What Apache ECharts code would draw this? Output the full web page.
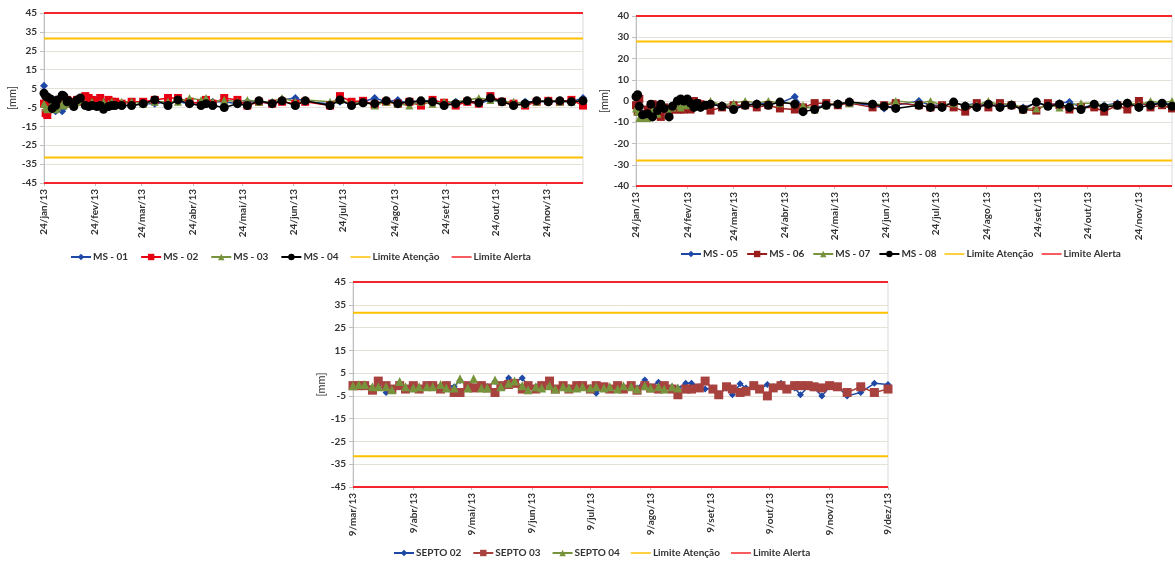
<!DOCTYPE html>
<html><head><meta charset="utf-8">
<script src="https://cdn.jsdelivr.net/npm/echarts@6/dist/echarts.min.js"></script>
<style>html,body{margin:0;padding:0;background:#fff}#c{width:1175px;height:562px}</style>
</head><body><div id="c"></div>
<script>
const YEAR = 2013;
const monthNames = ['jan','fev','mar','abr','mai','jun','jul','ago','set','out','nov','dez'];

// ---- Chart 1 (MS 01-04) ----
const dates1 = ['01-24','01-25','01-26','01-28','01-29','01-31','02-01','02-04','02-05','02-07',
  '02-08','02-11','02-13','02-15','02-18','02-20','02-22','02-25','02-27','03-01',
  '03-04','03-06','03-08','03-12','03-18','03-25','04-01','04-09','04-15','04-22',
  '04-29','05-02','05-06','05-13','05-21','05-27','06-03','06-11','06-17','06-25',
  '07-01','07-16','07-22','07-29','08-05','08-12','08-19','08-26','09-02','09-09',
  '09-16','09-23','09-30','10-07','10-14','10-21','10-28','11-04','11-11','11-18',
  '11-25','12-02','12-09','12-16'];
const ms01 = [6.5,-2,-4,-6.5,-5,-7,-3,-7,-5,-3, -3,-2,-2,-1,-2,-2,-2,-1,-1,-2, -2,-3,-3,-4,-4,-3,-3,-2,-2,-3,
  -2,-1,-2,-2,-3,-2,-2,-3,-1,0, -2,-3,-2,-3,-2,0,-2,-1,-3,-2, -1,-3,-2,-2,-3,-1,-2,-3,-2,-2, -2,-2,-2,0];
const ms02 = [-3,-8,-9,-5,-3,-4,-2,-2,-3,-1, -3,-2,-1,-2,1,0,-1,-2,0,-3, -1,-2,-2,-3,-2,-2,-1,0,0,-2,
  -3,-1,-3,0,-1,-4,-2,-3,-2,-3, -2,-4,1,-2,-1.5,-3.5,-2,-3,-2,-4, -1,-2.5,-4,-2,-3,1,-2,-3,-4,-2, -1.5,-2,-1,-4];
const ms03 = [-3,-5,-6,-4,-3,-6,-5,-3,-4,-2, -3,-4,-2,-1,-3,-4,-2,-4,-3,-2, -3,-2,-3,-2,-2,-3,-2,-2,-2,0,
  -1,0,-2,-1,-2,-1,-2,-2,0,-2, -1,-2,-1,-3,-2,-4,-2,-3,-4,-2, -3,-2,-2,-1,0,-1,-2,-2,-3,-2, -1,-2,-2,-1];
const ms04 = [2.5,1,0.5,-0.5,-5.5,-4,-1,1.5,1,-2, -1.5,-4.5,-1,0,-4,-4.5,-4,-4.5,-4,-6, -4.5,-4,-4,-4,-4,-3,-1,-4,-1,-3,
  -4,-3,-4,-5,-3,-4,-1.5,-3,-1.5,-4, -1.5,-4,-1,-4,-2.5,-3,-1.5,-3,-2,-1.5, -2,-4,-3,-1.5,-2.5,0,-2,-4,-3,-1.5, -2,-1.5,-2,-1.5];
const ticks1 = ['01-24','02-24','03-24','04-24','05-24','06-24','07-24','08-24','09-24','10-24','11-24'];
const yRange1 = [-45, 45];
const atencao1 = 31.5, alerta1 = 45;

// ---- Chart 2 (MS 05-08) ----
const dates2 = ['01-24','01-25','01-26','01-28','01-31','02-02','02-03','02-06','02-08','02-10',
  '02-13','02-15','02-18','02-20','02-22','02-24','02-26','02-28','03-02','03-04',
  '03-07','03-10','03-17','03-24','03-31','04-07','04-14','04-21','04-30','05-05',
  '05-12','05-19','05-26','06-02','06-16','06-23','06-30','07-14','07-21','07-28',
  '08-04','08-11','08-18','08-25','09-01','09-08','09-15','09-23','09-30','10-07',
  '10-13','10-20','10-28','11-03','11-11','11-17','11-24','12-01','12-08','12-14'];
const ms05 = [3,2,-3,-6,-7,-2,-7,-5,-2,-4, -6,-2,-1,0,-1,0,-2,-3,-2,-2, -2,-1,-2,-3,-2,-1,-1,-1,2,-3,
  -3,-2,-1,-1,-2,-3.5,-2,0,-2,-2, -1,-2,-1,-2,-2,-2,-3,-1,-2,-1, -0.5,-3,-2,-2,-1,-2,-2,-1,-1,-1.5];
const ms06 = [-2,-5,1,-7,-4,-2,-1.5,-2,-7.5,-3, -6,-4,-4,-4,-4,-2,-4,0,-1,-1.5, -2,-4.5,-3,-2,-2,-3,-2,-3.5,-4,-3,
  -1,-1,-2,-1,-3,-2,-1,-2,-3,-2, -3,-5,-1,-3,-1,-2,-4,-4.5,-1,-2, -4,-3,-3,-5,-2,-4,0,-3,-2,-3.5];
const ms07 = [-3.5,-5,-8,-8,-8,-7,-4,-6,-3,-2, -5,-3,-2,-3,-2,-1,-2,-1,-2,-2, -2,0,-2,-1,0,-1,0,-1,-1,-2,
  -4,-2,-1,-1,-1,-2,0,-1,0,-2, -1,-2,-2,0,-2,-1,-3.5,-3.5,-2,-3, -2,-1,-1,-2,-2,-0.5,-2,0,-1,0];
const ms08 = [2,3,-2.5,-6.5,-6,-1.5,-7.5,-4.5,-1.5,-3.5, -7.5,-2.5,0,1,0,1,-1,-3,-1,-3, -2,-1.5,-2.5,-4,-2,-1.5,-2,-0.5,-1.5,-5,
  -4,-2,-1.5,-0.5,-1.5,-2.5,-3.5,-2,-3,-3, -0.5,-2.5,-3,-1.5,-3,-2,-4,-0.5,-2.5,-1.5, -3,-4,-1.5,-3,-2,-1,-3,-2,-1,-2.5];
const ticks2 = ticks1;
const yRange2 = [-40, 40];
const atencao2 = 28, alerta2 = 40;

// ---- Chart 3 (SEPTO) ----
const dates3 = ['03-09','03-12','03-15','03-19','03-22','03-26','03-29',
  '04-02','04-05','04-09','04-12','04-16','04-19','04-23','04-26','04-30',
  '05-03','05-07','05-10','05-14','05-17','05-21','05-24','05-28','05-31',
  '06-04','06-07','06-11','06-14','06-18','06-21','06-25','06-28',
  '07-02','07-05','07-09','07-12','07-16','07-19','07-23','07-26','07-30',
  '08-02','08-06','08-09','08-13','08-16','08-20','08-23','08-27','08-30',
  '09-03','09-06','09-10','09-13','09-17','09-20','09-24','09-27',
  '10-01','10-04','10-08','10-11','10-15','10-18','10-22','10-25','10-29',
  '11-01','11-05','11-09','11-13','11-18','11-25','12-02','12-09'];
const septo02 = [-0.5,-0.5,0,-1.5,0.5,-3.5,-2,
  -1,-1.5,-0.5,-1.5,-1,-0.5,-1.5,0,-1,
  1.8,-0.5,-1,0,-1,1.3,-0.5,2.8,1,
  2.8,-0.5,-1,0,1.8,-1.5,-0.5,-1.5,
  -0.5,-1,-1.5,-3.8,-1,-1.5,-0.5,-1.5,-0.5,
  -1.5,2,-1,1,-0.5,-1,-1.5,0.5,0.5,
  -1,-2,-1.5,-4.5,-1.5,-4.5,0.3,-1.5,
  -1,-2,0,-1,0.5,-2,-1.5,-4.5,-1,
  -1.5,-5,-1,-1,-5,-3.5,0.5,0];
const septo03 = [-0.5,-0.5,-0.5,-2.5,1.5,-0.5,-2,
  -0.5,-2,-0.5,-2,-0.5,-0.5,-2,-0.5,-3.5,
  -3.5,-0.5,-1.5,-0.5,-1.5,-3.5,-0.5,0,0.5,
  -2,-0.5,-2,-0.5,1.5,-2,-0.5,-2,
  -0.5,-0.5,-2,-0.5,-1,-2,-0.5,-2,-0.5,
  -2.5,-0.5,-1.5,-2,-0.5,-2,-4.5,-2,-2,
  -1.5,1.5,-2,-4.5,-1,-2,-3.5,-3,
  -0.5,-2,-5,-1.5,-0.5,-2,-0.5,-0.5,-0.5,
  -1,-1.5,-0.5,-1,-3.5,-1,-3.5,-2];
const septo04 = [-0.5,0,0,-1,-1,-1,-2.3,
  1.3,-1,-1.5,-1,-1,-1,0,-1.5,-1.5,
  2.5,-1.5,2.5,-1.5,-1.5,2,-1,0.5,1.5,
  -0.5,-2.3,-1,-1.5,-0.5,-2,-1,-1.5,
  -1.5,-1,-1.5,-1,-1.5,-1,-2,-0.5,-1,
  -2,-0.5,-1.5,-1,-2,-1,-1.5,null,null,
  null,null,null,null,null,null,null,null,
  null,null,null,null,null,null,null,null,null,
  null,null,null,null,null,null,null,null];
const ticks3 = ['03-09','04-09','05-09','06-09','07-09','08-09','09-09','10-09','11-09','12-09'];
const yRange3 = [-45, 45];
const atencao3 = 31.5, alerta3 = 45;

// ---- colours ----
const C = {blue:'#1E48A6', red:'#E60012', green:'#77933C', black:'#000000',
  darkred:'#9B1C1C', brown:'#A8423F', atencao:'#FFC000', alerta:'#F5262B'};
const FONT = 'Lato';
const LINE_ICON = 'path://M0,0H40V3H0Z';

function ts(md){ const p = md.split('-').map(Number); return new Date(YEAR, p[0]-1, p[1]).getTime(); }
function pts(dates, vals){ return dates.map((d,i)=>[ts(d), vals[i] == null ? '-' : vals[i]]); }
function fmt(v){ const d = new Date(v); return d.getDate()+'/'+monthNames[d.getMonth()]+'/'+String(d.getFullYear()).slice(2); }

function xAx(gi, dates, ticks){
  const tv = ticks.map(ts);
  return {type:'value', gridIndex:gi, min:ts(dates[0]), max:ts(dates[dates.length-1]), scale:true,
    axisLine:{show:true, onZero:false, lineStyle:{color:'#BFBFBF'}},
    axisTick:{show:true, customValues:tv, length:3, lineStyle:{color:'#BFBFBF'}},
    splitLine:{show:false},
    axisLabel:{customValues:tv, rotate:90, formatter:fmt, fontFamily:FONT, fontWeight:'bold', fontSize:10, color:'#333', margin:6, hideOverlap:false, showMinLabel:true, showMaxLabel:true}};
}
function yAx(gi, r){
  return {type:'value', gridIndex:gi, min:r[0], max:r[1], interval:10,
    axisLine:{show:true, lineStyle:{color:'#BFBFBF'}},
    axisTick:{show:true, length:4, lineStyle:{color:'#BFBFBF'}},
    splitLine:{show:true, lineStyle:{color:'#E4E1D9', width:1}},
    axisLabel:{fontFamily:FONT, fontWeight:'bold', fontSize:10, color:'#333', margin:7},
    name:'[mm]', nameLocation:'middle', nameRotate:90, nameGap:26,
    nameTextStyle:{fontFamily:FONT, fontSize:11, color:'#333'}};
}
function dataSeries(name, gi, dates, vals, color, symbol, size){
  return {name, type:'line', xAxisIndex:gi, yAxisIndex:gi, data:pts(dates, vals),
    symbol, symbolSize:size, showSymbol:true, itemStyle:{color}, lineStyle:{color, width:1.5},
    emphasis:{disabled:true}};
}
function limitSeries(name, gi, dates, L, color){
  const a = ts(dates[0]), b = ts(dates[dates.length-1]);
  return {name, type:'line', xAxisIndex:gi, yAxisIndex:gi, clip:false, symbol:'none', showSymbol:false,
    data:[[a, L],[b, L],[b, '-'],[a, -L],[b, -L]], connectNulls:false,
    itemStyle:{color}, lineStyle:{color, width:2}, emphasis:{disabled:true}, z:1};
}
function legend(left, top, names, gap){
  return {left, top, padding:0, itemWidth:20, itemHeight:8, itemGap:gap, selectedMode:false,
    data:names.map(n => n.indexOf('Limite') === 0 ? {name:n, icon:LINE_ICON} : n),
    textStyle:{fontFamily:FONT, fontWeight:'bold', fontSize:10, color:'#333', padding:[0,0,0,-3]}};
}

const option = {
  animation:false,
  backgroundColor:'#fff',
  grid:[
    {left:44, right:592, top:13, bottom:379, show:true, borderColor:'#D9D9D9', borderWidth:1, backgroundColor:'transparent'},
    {left:636, right:3, top:16, bottom:376, show:true, borderColor:'#D9D9D9', borderWidth:1, backgroundColor:'transparent'},
    {left:353, right:287, top:282, bottom:75, show:true, borderColor:'#D9D9D9', borderWidth:1, backgroundColor:'transparent'}
  ],
  xAxis:[xAx(0, dates1, ticks1), xAx(1, dates2, ticks2), xAx(2, dates3, ticks3)],
  yAxis:[yAx(0, yRange1), yAx(1, yRange2), yAx(2, yRange3)],
  legend:[
    legend(70, 252, ['MS - 01','MS - 02','MS - 03','MS - 04','Limite Atenção','Limite Alerta'], 12),
    legend(680, 249, ['MS - 05','MS - 06','MS - 07','MS - 08','Limite Atenção','Limite Alerta'], 8),
    legend(393, 548, ['SEPTO 02','SEPTO 03','SEPTO 04','Limite Atenção','Limite Alerta'], 11)
  ],
  series:[
    limitSeries('Limite Atenção', 0, dates1, atencao1, C.atencao),
    limitSeries('Limite Alerta', 0, dates1, alerta1, C.alerta),
    dataSeries('MS - 01', 0, dates1, ms01, C.blue, 'diamond', 8),
    dataSeries('MS - 02', 0, dates1, ms02, C.red, 'rect', 8),
    dataSeries('MS - 03', 0, dates1, ms03, C.green, 'triangle', 8),
    dataSeries('MS - 04', 0, dates1, ms04, C.black, 'circle', 9),

    limitSeries('Limite Atenção', 1, dates2, atencao2, C.atencao),
    limitSeries('Limite Alerta', 1, dates2, alerta2, C.alerta),
    dataSeries('MS - 05', 1, dates2, ms05, C.blue, 'diamond', 8),
    dataSeries('MS - 06', 1, dates2, ms06, C.darkred, 'rect', 8),
    dataSeries('MS - 07', 1, dates2, ms07, C.green, 'triangle', 8),
    dataSeries('MS - 08', 1, dates2, ms08, C.black, 'circle', 9),

    limitSeries('Limite Atenção', 2, dates3, atencao3, C.atencao),
    limitSeries('Limite Alerta', 2, dates3, alerta3, C.alerta),
    dataSeries('SEPTO 02', 2, dates3, septo02, C.blue, 'diamond', 7),
    dataSeries('SEPTO 03', 2, dates3, septo03, C.brown, 'rect', 9),
    dataSeries('SEPTO 04', 2, dates3, septo04, C.green, 'triangle', 9)
  ]
};
const chart = echarts.init(document.getElementById('c'), null, {renderer:'canvas'});
chart.setOption(option);
</script>
</body></html>
